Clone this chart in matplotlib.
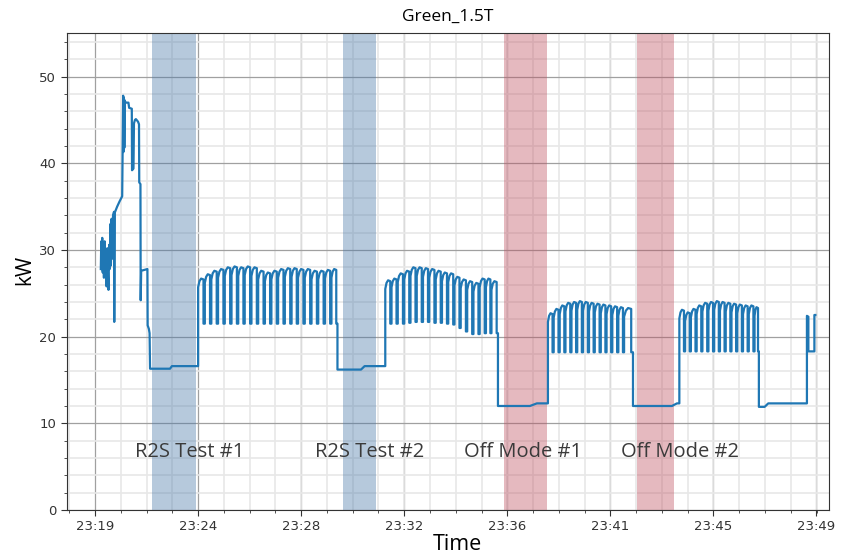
import matplotlib
matplotlib.use("Agg")
import matplotlib.pyplot as plt
from matplotlib.ticker import MultipleLocator, AutoMinorLocator

# Time is in minutes after 23:00, power in kW.
tick_pos = [19.83, 24.12, 28.40, 32.69, 36.97, 41.26, 45.54, 49.83]
tick_labels = ["23:19", "23:24", "23:28", "23:32", "23:36", "23:41", "23:45", "23:49"]

# Start-up trace before the first test.
startup_t = [20.07, 20.09, 20.11, 20.13, 20.15, 20.18, 20.20, 20.23, 20.26, 20.28,
             20.31, 20.34, 20.37, 20.39, 20.42, 20.44, 20.47, 20.49, 20.52, 20.55,
             20.58, 20.62, 20.63, 20.65, 20.75, 20.85, 20.96, 21.00, 21.01, 21.02,
             21.03, 21.04, 21.05, 21.06, 21.08, 21.11, 21.22, 21.25, 21.36, 21.37,
             21.43, 21.45, 21.49, 21.53, 21.62, 21.66, 21.67, 21.72, 21.73, 21.75,
             22.01, 22.02, 22.07, 22.10, 22.12]
startup_kw = [27.8, 31.0, 28.2, 31.4, 27.4, 30.4, 26.8, 31.0, 27.6, 29.6,
              25.8, 30.2, 27.0, 25.4, 30.6, 27.8, 33.0, 28.2, 33.6, 29.0,
              34.0, 34.4, 21.7, 34.3, 35.0, 35.6, 36.2, 47.8, 41.3, 47.6,
              41.5, 47.4, 41.8, 47.2, 47.1, 47.0, 47.0, 46.4, 46.3, 39.2,
              39.4, 44.6, 45.0, 45.1, 44.8, 44.5, 37.8, 37.6, 24.2, 27.6,
              27.8, 21.3, 20.9, 20.4, 16.3]

# Cycling blocks: start time, peak and low of every cycle.
blockA_t = [24.12, 24.40, 24.67, 24.95, 25.23, 25.51, 25.79, 26.06, 26.34, 26.62, 26.90,
            27.17, 27.45, 27.73, 28.01, 28.28, 28.56, 28.84, 29.12, 29.40, 29.67]
blockA_peak = [26.7, 27.2, 27.6, 27.8, 28.0, 28.1, 28.0, 28.1, 28.0, 27.6, 27.4,
               27.6, 27.8, 27.9, 27.9, 27.8, 27.8, 27.6, 27.6, 27.7, 27.8]
blockA_low = [21.5] * 21
blockA_end = 29.92

blockB_t = [31.91, 32.17, 32.43, 32.70, 32.96, 33.22, 33.48, 33.74, 34.01,
            34.27, 34.53, 34.79, 35.05, 35.32, 35.58, 35.84, 36.10, 36.33]
blockB_peak = [26.5, 26.7, 27.3, 27.6, 28.0, 28.0, 27.9, 27.8, 27.6,
               27.4, 27.3, 26.9, 26.6, 26.4, 26.2, 26.7, 26.7, 26.4]
blockB_low = [21.5, 21.5, 21.5, 21.6, 21.7, 21.7, 21.7, 21.6, 21.6,
              21.5, 21.4, 21.0, 20.6, 20.3, 20.3, 20.4, 20.4, 20.4]
blockB_end = 36.60

blockC_t = [38.68, 38.92, 39.17, 39.41, 39.66, 39.90, 40.14,
            40.39, 40.63, 40.88, 41.12, 41.36, 41.61, 41.85]
blockC_peak = [22.7, 23.2, 23.6, 23.9, 24.0, 24.1, 24.0,
               23.9, 23.8, 23.7, 23.6, 23.5, 23.4, 23.3]
blockC_low = [18.2] * 14
blockC_end = 42.22

blockD_t = [44.15, 44.39, 44.63, 44.87, 45.11, 45.36, 45.60,
            45.84, 46.08, 46.32, 46.56, 46.80, 47.04, 47.28]
blockD_peak = [23.1, 22.8, 23.2, 23.6, 23.9, 24.0, 24.1,
               24.0, 23.9, 23.8, 23.7, 23.6, 23.6, 23.4]
blockD_low = [18.3] * 14
blockD_end = 47.46

# Idle plateaus between blocks and the tail.
idle1_t = [22.95, 23.03, 24.12]
idle1_kw = [16.3, 16.6, 16.6]
idle2_t = [29.92, 30.90, 31.05, 31.91]
idle2_kw = [16.2, 16.2, 16.6, 16.6]
idle3_t = [36.60, 37.93, 38.22, 38.68]
idle3_kw = [12.0, 12.0, 12.3, 12.3]
idle4_t = [42.22, 43.84, 44.05, 44.15]
idle4_kw = [12.0, 12.0, 12.3, 12.3]
tail_t = [47.46, 47.70, 47.85, 49.46, 49.46, 49.52, 49.52, 49.77, 49.77, 49.81]
tail_kw = [11.9, 11.9, 12.3, 12.3, 22.4, 22.3, 18.3, 18.3, 22.5, 22.5]

# Test windows.
win_start = [22.20, 30.14, 36.85, 42.40]
win_end = [24.03, 31.52, 38.63, 43.93]
win_kind = ["r2s", "r2s", "off", "off"]
win_labels = ["R2S Test #1", "R2S Test #2", "Off Mode #1", "Off Mode #2"]
label_x = [23.78, 31.25, 37.64, 44.18]
label_y = 6.7


def cycles(starts, peaks, lows, end, arc=1.0):
    tt, kk = [], []
    nxt = starts[1:] + [end]
    for t0, t1, pk, lo in zip(starts, nxt, peaks, lows):
        dt = t1 - t0
        td = t0 + 0.8 * dt
        tt += [t0, t0 + 0.2 * dt, t0 + 0.45 * dt, td, td, t1]
        kk += [pk - arc, pk - 0.3 * arc, pk, pk - 0.1, lo, lo]
    return tt, kk


t = list(startup_t) + idle1_t
kw = list(startup_kw) + idle1_kw
pieces = [
    (cycles(blockA_t, blockA_peak, blockA_low, blockA_end), (idle2_t, idle2_kw)),
    (cycles(blockB_t, blockB_peak, blockB_low, blockB_end), (idle3_t, idle3_kw)),
    (cycles(blockC_t, blockC_peak, blockC_low, blockC_end), (idle4_t, idle4_kw)),
    (cycles(blockD_t, blockD_peak, blockD_low, blockD_end), (tail_t, tail_kw)),
]
for (ct, ck), (it, ik) in pieces:
    t += ct + it
    kw += ck + ik

fig = plt.figure(figsize=(8.42, 5.57), dpi=100)
ax = fig.add_axes([0.0792, 0.0844, 0.9054, 0.8558])

span_colors = {"r2s": "#4a78a8", "off": "#be5061"}
for s, e, k in zip(win_start, win_end, win_kind):
    ax.axvspan(s, e, color=span_colors[k], alpha=0.4, lw=0, zorder=1)

ax.plot(t, kw, color="#1f77b4", lw=1.6, zorder=3)

ax.set_xlim(18.65, 50.38)
ax.set_ylim(0, 55)
ax.set_xticks(tick_pos)
ax.set_xticklabels(tick_labels)
ax.xaxis.set_minor_locator(AutoMinorLocator(4))
ax.yaxis.set_major_locator(MultipleLocator(10))
ax.yaxis.set_minor_locator(MultipleLocator(2))
ax.set_axisbelow(True)
ax.grid(which="major", color="#a0a0a0", lw=0.9)
ax.grid(which="minor", color="#e8e8e8", lw=1.2)
ax.tick_params(which="major", length=4, labelsize=9.5, colors="#333333")
ax.tick_params(which="minor", length=2.5, colors="#333333")
for sp in ax.spines.values():
    sp.set_color("#333333")

font = "Open Sans"
ax.set_title("Green_1.5T", fontsize=12.5, family=font, pad=9)
fig.text(457 / 842, 1 - 545 / 557, "Time", ha="center", va="center", fontsize=15.5, family=font)
fig.text(25 / 842, 1 - 270 / 557, "kW", ha="center", va="center", rotation=90, fontsize=15, family=font)
for x, lab in zip(label_x, win_labels):
    ax.text(x, label_y, lab, ha="center", va="center", fontsize=14.5, family=font, color="#3a3a3a", zorder=4)

fig.savefig("out.png", dpi=100)
